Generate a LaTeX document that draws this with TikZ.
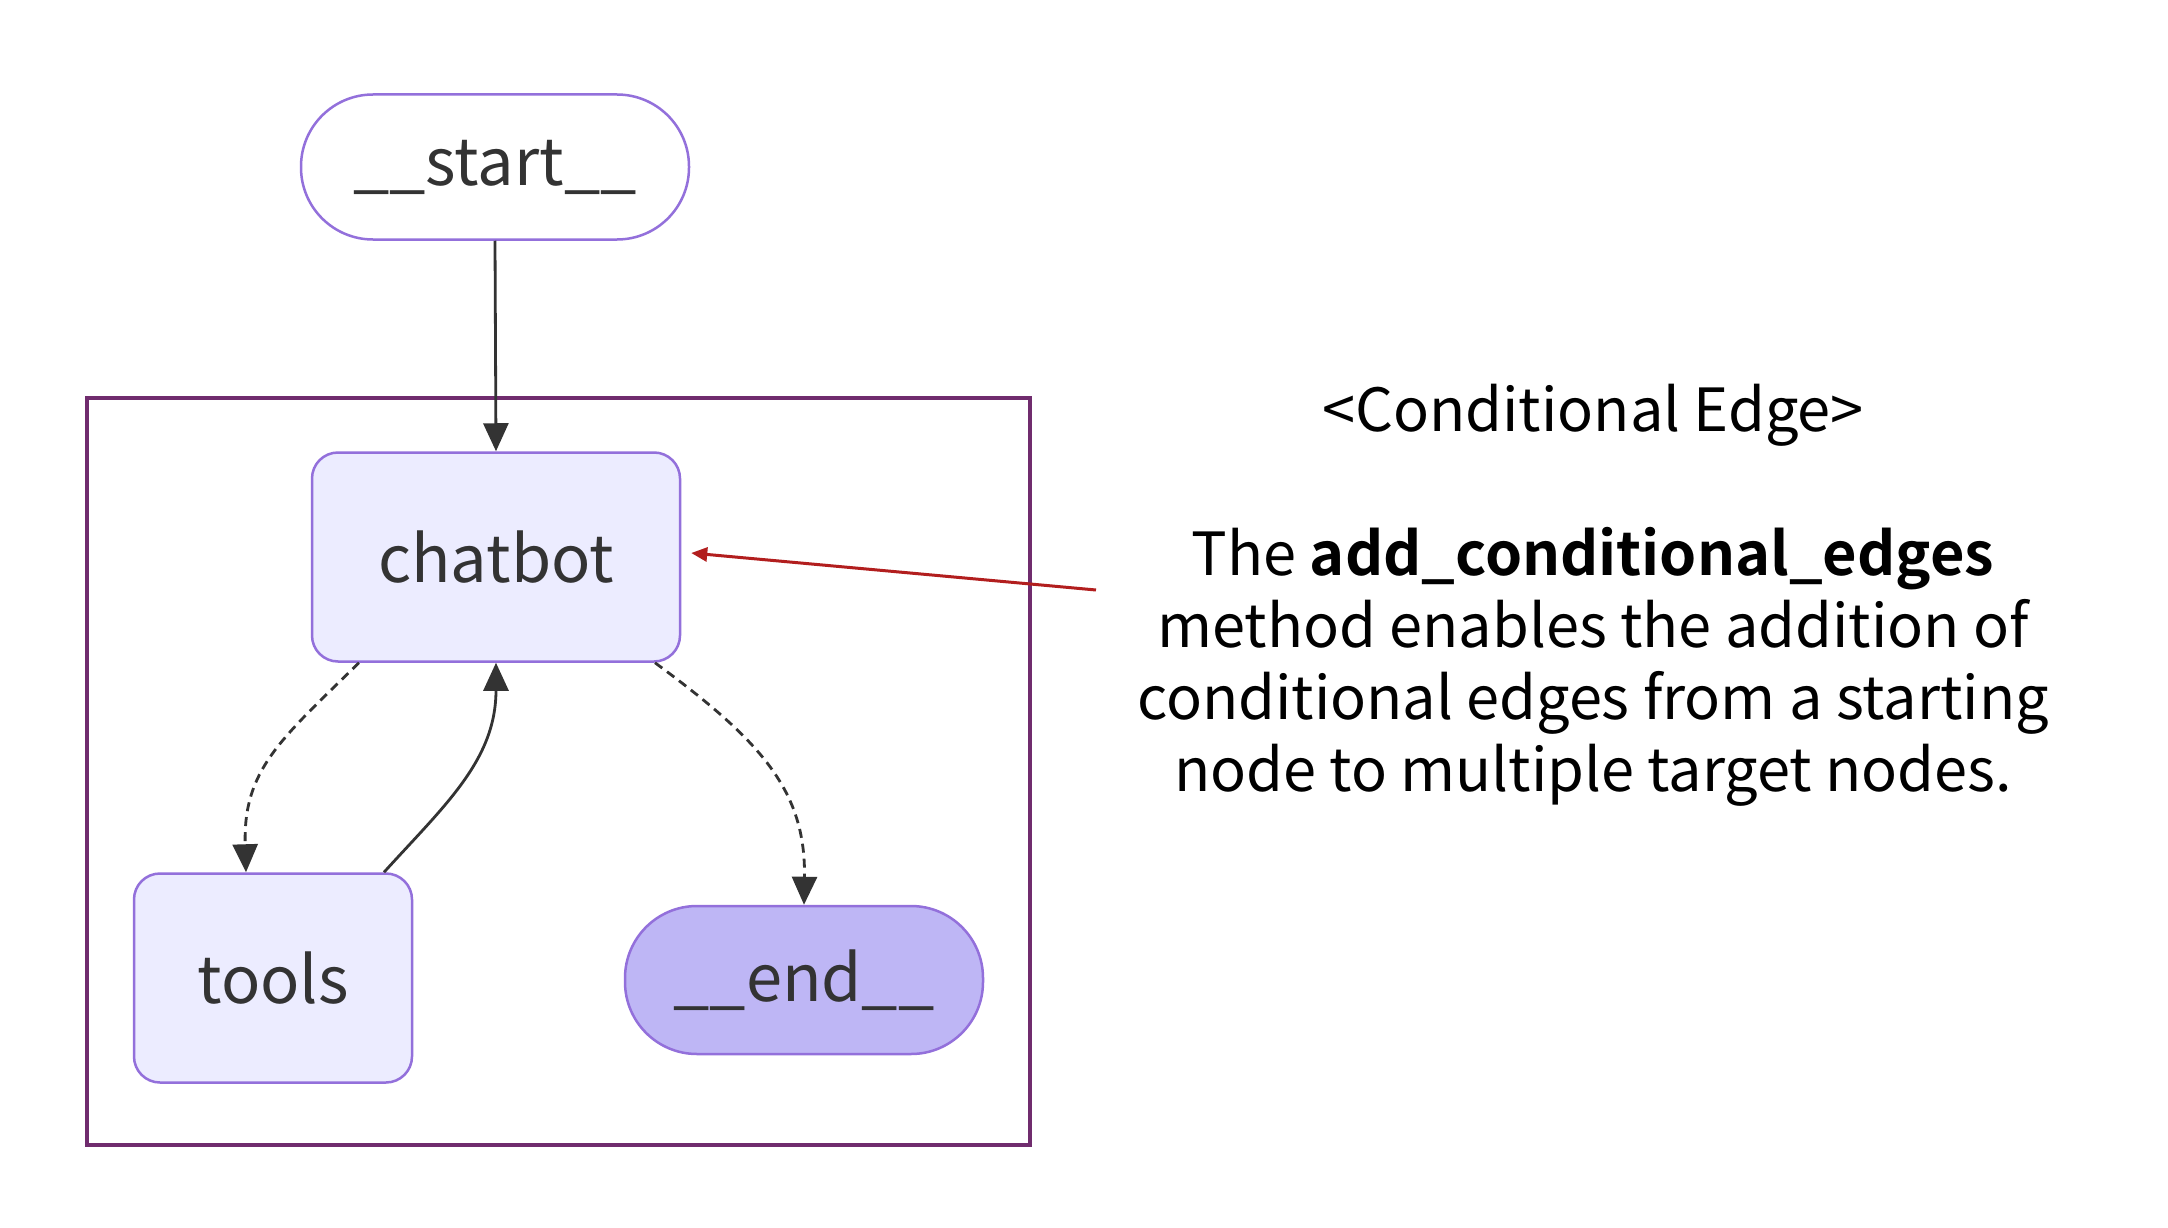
\documentclass[tikz,border=0pt]{standalone}
\usepackage{fontspec}
\setmainfont{Noto Sans CJK KR}[BoldFont={Noto Sans CJK KR Bold}]
\usetikzlibrary{arrows.meta}
\definecolor{nodeborder}{RGB}{147,112,219}
\definecolor{nodefill}{RGB}{236,236,255}
\definecolor{endfill}{RGB}{190,182,245}
\definecolor{framecol}{RGB}{112,44,110}
\definecolor{edgecol}{RGB}{51,51,51}
\definecolor{redarrow}{RGB}{178,30,30}
\tikzset{
  gnode/.style={draw=nodeborder, line width=2.5pt, text=edgecol, inner sep=0pt,
     font=\fontsize{65}{65}\selectfont},
  boxnode/.style={gnode, fill=nodefill, rounded corners=26pt},
  pillnode/.style={gnode, rounded corners=72pt},
  edge/.style={draw=edgecol, line width=2.8pt, -{Triangle[length=28pt,width=25pt]}},
  condedge/.style={edge, dash pattern=on 9pt off 6pt},
}
\begin{document}
\begin{tikzpicture}[x=1pt,y=-1pt]
\useasboundingbox[fill=white] (0,0) rectangle (2168,1228);
% frame
\draw[framecol, line width=4.5pt] (87,398) rectangle (1030,1145);
% nodes
\node[pillnode, fill=white, minimum width=388pt, minimum height=145pt] (start) at (495,167) {\_\_start\_\_};
\node[boxnode, minimum width=368pt, minimum height=209pt] (chatbot) at (496,557) {chatbot};
\node[boxnode, minimum width=278pt, minimum height=209pt] (tools) at (273,978) {tools};
\node[pillnode, fill=endfill, minimum width=358pt, minimum height=148pt] (end) at (804,980) {\_\_end\_\_};
% edges
\draw[edge] (start.south) -- (chatbot.north);
\draw[condedge] ([xshift=-137pt]chatbot.south) .. controls (280,740) and (243,770) .. ([xshift=-27pt]tools.north);
\draw[edge] ([xshift=111pt]tools.north) .. controls (445,805) and (496,760) .. (chatbot.south);
\draw[condedge] ([xshift=159pt]chatbot.south) .. controls (760,740) and (806,790) .. (end.north);
% annotation text
\node[font=\fontsize{59.5}{59.5}\selectfont, anchor=center] (title) at (1593,415) {<Conditional Edge>};
\node[font=\fontsize{59.5}{72}\selectfont, align=center, anchor=north] (desc) at (1593,524)
  {The \textbf{add\_conditional\_edges}\\method enables the addition of\\conditional edges from a starting\\node to multiple target nodes.};
\coordinate (redstart) at (1096,590);
\draw[redarrow, line width=3pt, -{Triangle[length=16pt,width=14pt]}] (redstart) -- ([xshift=10pt,yshift=4pt]chatbot.east);
\end{tikzpicture}
\end{document}
